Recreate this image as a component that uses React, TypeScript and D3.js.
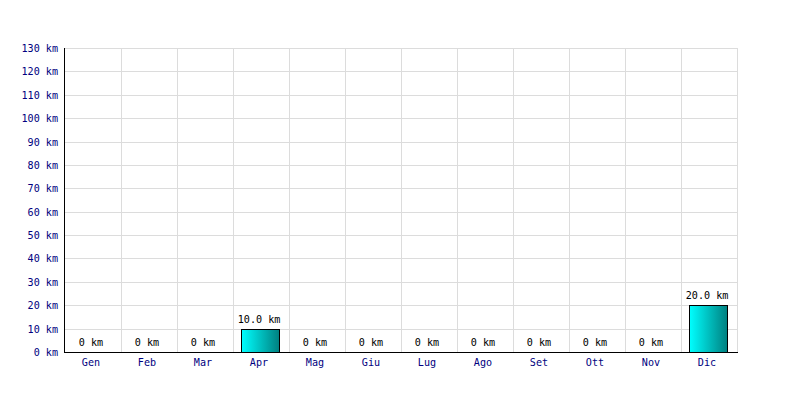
import React from "react";
import * as d3 from "d3";

const months = ["Gen", "Feb", "Mar", "Apr", "Mag", "Giu", "Lug", "Ago", "Set", "Ott", "Nov", "Dic"];
const values = [0, 0, 0, 10, 0, 0, 0, 0, 0, 0, 0, 20];
const yTicks = [0, 10, 20, 30, 40, 50, 60, 70, 80, 90, 100, 110, 120, 130];

const W = 800, H = 400;
const left = 65, right = 737, top = 48, bottom = 352;
const font = "'DejaVu Sans Mono', 'Liberation Mono', monospace";

function T({ x, y, anchor, fill, children }: { x: number; y: number; anchor: string; fill: string; children: React.ReactNode }) {
  return (
    <text transform={`translate(${x},${y}) scale(0.92,1)`} textAnchor={anchor as any} fontFamily={font} fontSize={11} fill={fill}>
      {children}
    </text>
  );
}

export default function App() {
  const x = d3.scaleBand<string>().domain(months).range([left, right]).paddingInner(0).paddingOuter(0);
  const y = d3.scaleLinear().domain([0, 130]).range([bottom, top]);
  const bw = 38;
  const fmt = (v: number) => (v === 0 ? "0 km" : `${v.toFixed(1)} km`);
  return (
    <svg width={W} height={H} style={{ position: "absolute", left: 0, top: 0, background: "#fff" }}>
      <defs>
        <linearGradient id="barGrad" x1="0" x2="1" y1="0" y2="0">
          <stop offset="0%" stopColor="#00ffff" />
          <stop offset="100%" stopColor="#008080" />
        </linearGradient>
      </defs>
      {yTicks.map((t) => (
        <line key={"h" + t} x1={left} x2={right} y1={Math.round(y(t)) + 0.5} y2={Math.round(y(t)) + 0.5} stroke="#dcdcdc" strokeWidth={1} />
      ))}
      {months.map((m) => (
        <line key={"v" + m} x1={(x(m) as number) + x.bandwidth() + 0.5} x2={(x(m) as number) + x.bandwidth() + 0.5} y1={top} y2={bottom} stroke="#dcdcdc" strokeWidth={1} />
      ))}
      {months.map((m, i) => {
        const v = values[i];
        const cx = (x(m) as number) + x.bandwidth() / 2;
        return (
          <g key={"b" + m}>
            {v > 0 && (
              <rect x={Math.round(cx - bw / 2) - 0.5} y={Math.round(y(v)) + 0.5} width={bw} height={bottom - Math.round(y(v))} fill="url(#barGrad)" stroke="#000" strokeWidth={1} />
            )}
            <T x={cx - 2} y={y(v) - 6} anchor="middle" fill="#000">{fmt(v)}</T>
            <T x={cx - 2} y={bottom + 14} anchor="middle" fill="#000080">{m}</T>
          </g>
        );
      })}
      {yTicks.map((t) => (
        <T key={"yt" + t} x={58} y={y(t) + 4} anchor="end" fill="#000080">{`${t} km`}</T>
      ))}
      <line x1={left - 0.5} x2={left - 0.5} y1={top} y2={bottom + 1} stroke="#000" strokeWidth={1} />
      <line x1={left - 1} x2={right + 1} y1={bottom + 0.5} y2={bottom + 0.5} stroke="#000" strokeWidth={1} />
    </svg>
  );
}
